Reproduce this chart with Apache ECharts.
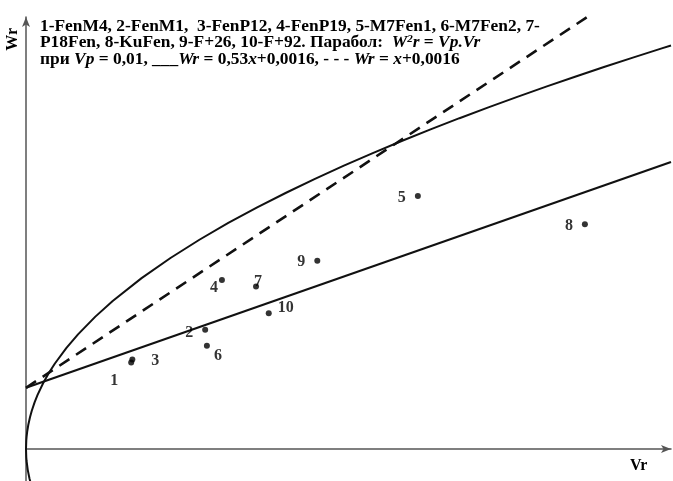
<!DOCTYPE html>
<html>
<head>
<meta charset="utf-8">
<script src="https://cdn.jsdelivr.net/npm/echarts@6/dist/echarts.min.js"></script>
<style>
  html, body { margin: 0; padding: 0; background: #fff; }
  #chart { width: 673px; height: 481px; }
</style>
</head>
<body>
<div id="chart"></div>
<script>
// Samples (Vr, Wr) and their numbers
const pointNames = ['1', '3', '2', '6', '4', '7', '10', '9', '5', '8'];
const pointVr = [0.00182, 0.00184, 0.00310, 0.00313, 0.00339, 0.00398, 0.00420, 0.00504, 0.00678, 0.00967];
const pointWr = [0.00226, 0.00234, 0.00312, 0.00270, 0.00442, 0.00425, 0.00355, 0.00493, 0.00662, 0.00588];

// Parabola W^2 r = Vp * Vr, with Vp = 0.01
const VP = 0.01;
const parabolaVr = [0, 0.000005, 0.00001, 0.00002, 0.00004, 0.00007, 0.0001, 0.00015, 0.0002, 0.0003,
  0.0004, 0.0005, 0.0007, 0.0009, 0.0012, 0.0015, 0.002, 0.0025, 0.003, 0.0035, 0.004, 0.0045,
  0.005, 0.0055, 0.006, 0.0065, 0.007, 0.0075, 0.008, 0.0085, 0.009, 0.0095, 0.010, 0.0105, 0.011, 0.01116];
const parabolaLowVr = [0, 0.000005, 0.00001, 0.00003, 0.00006, 0.0001];

// Straight lines Wr = k*x + b
const solidK = 0.53, solidB = 0.0016;
const dashK = 1, dashB = 0.0016;

// Axis ranges
const X_MAX = 0.01116;
const Y_MIN = -0.00084;
const Y_MAX = 0.01131;

const SERIF = '"Liberation Serif", "DejaVu Serif", serif';

const upper = parabolaVr.map(v => [v, Math.sqrt(VP * v)]);
const lower = parabolaLowVr.map(v => [v, -Math.sqrt(VP * v)]);
const solid = [[0, solidB], [X_MAX, solidK * X_MAX + solidB]];
const dashed = [[0, dashB], [X_MAX, dashK * X_MAX + dashB]];

// label offsets per point number (px)
const labelOffset = {
  '1': [-17, 18], '3': [23, 1], '2': [-16, 3], '6': [11, 10], '4': [-8, 8],
  '7': [2, -5], '10': [17, -5], '9': [-16, 1], '5': [-16, 2], '8': [-16, 1]
};

const scatterData = pointNames.map((n, i) => ({
  name: n,
  value: [pointVr[i], pointWr[i]],
  label: { offset: labelOffset[n] }
}));

const chart = echarts.init(document.getElementById('chart'), null, { renderer: 'canvas' });

const axisLineStyle = { color: '#555', width: 1.5 };
const FS = 17.4, LH = 16.5;

chart.setOption({
  animation: false,
  backgroundColor: '#fff',
  title: {
    left: 40,
    top: 18,
    padding: 0,
    text: '{b|1-FenM4, 2-FenM1,  3-FenP12, 4-FenP19, 5-M7Fen1, 6-M7Fen2, 7-}\n' +
          '{b|P18Fen, 8-KuFen, 9-F+26, 10-F+92. Парабол:  }{i|W}{sup|2}{i|r}{b| = }{i|Vp.Vr}\n' +
          '{b|при }{i|Vp}{b| = 0,01, ___}{i|Wr}{b| = 0,53}{i|x}{b|+0,0016, - - - }{i|Wr}{b| = }{i|x}{b|+0,0016}',
    textStyle: {
      fontFamily: SERIF,
      fontSize: FS,
      fontWeight: 'bold',
      color: '#000',
      lineHeight: LH,
      rich: {
        b: { fontFamily: SERIF, fontSize: FS, fontWeight: 'bold', color: '#000', lineHeight: LH },
        i: { fontFamily: SERIF, fontSize: FS, fontWeight: 'bold', fontStyle: 'italic', color: '#000', lineHeight: LH },
        sup: { fontFamily: SERIF, fontSize: 11, fontWeight: 'bold', fontStyle: 'italic', color: '#000', lineHeight: LH, padding: [0, 0, 7, 0] }
      }
    }
  },
  grid: { left: 26, right: 2, top: 17, bottom: 0, containLabel: false },
  xAxis: {
    type: 'value',
    min: 0,
    max: X_MAX,
    axisLine: { show: true, onZero: true, lineStyle: axisLineStyle, symbol: ['none', 'arrow'], symbolSize: [6, 10] },
    axisTick: { show: false },
    axisLabel: { show: false },
    splitLine: { show: false }
  },
  yAxis: {
    type: 'value',
    min: Y_MIN,
    max: Y_MAX,
    axisLine: { show: true, onZero: false, lineStyle: axisLineStyle, symbol: ['none', 'arrow'], symbolSize: [6, 10] },
    axisTick: { show: false },
    axisLabel: { show: false },
    splitLine: { show: false }
  },
  graphic: [
    { type: 'text', left: 5, top: 28, rotation: Math.PI / 2,
      style: { text: 'Wr', font: 'bold 16px ' + SERIF, fill: '#000' } },
    { type: 'text', left: 630, top: 458,
      style: { text: 'Vr', font: 'bold 16px ' + SERIF, fill: '#000' } }
  ],
  series: [
    {
      type: 'line', data: upper, showSymbol: false, smooth: false, clip: true,
      lineStyle: { color: '#111', width: 2 }, z: 3
    },
    {
      type: 'line', data: lower, showSymbol: false, clip: true,
      lineStyle: { color: '#111', width: 2 }, z: 3
    },
    {
      type: 'line', data: solid, showSymbol: false, clip: true,
      lineStyle: { color: '#111', width: 2.2 }, z: 3
    },
    {
      type: 'line', data: dashed, showSymbol: false, clip: true,
      lineStyle: { color: '#111', width: 2.6, type: [12, 8] }, z: 3
    },
    {
      type: 'scatter', data: scatterData, symbol: 'circle', symbolSize: 6,
      itemStyle: { color: '#000' }, z: 4,
      label: {
        show: true, position: 'inside', formatter: '{b}',
        fontFamily: SERIF, fontSize: 16, fontWeight: 'bold', color: '#000',
        align: 'center', verticalAlign: 'middle'
      }
    }
  ]
});
</script>
</body>
</html>
